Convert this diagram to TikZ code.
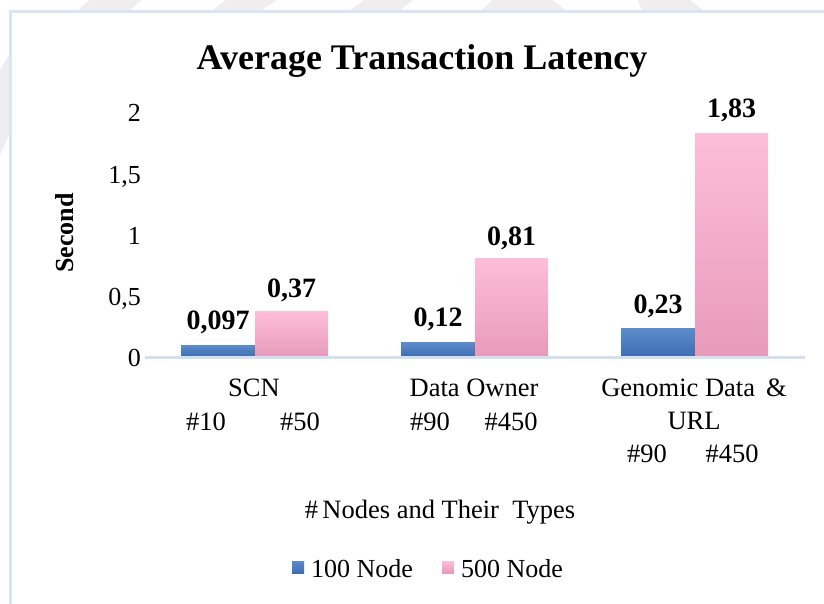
\documentclass[tikz,border=0pt]{standalone}
\usepackage{fontspec}
\setmainfont{Liberation Serif}
\definecolor{framec}{HTML}{DAE5F4}
\definecolor{axisc}{HTML}{D3E0F1}
\definecolor{bluetop}{HTML}{5C8BC9}
\definecolor{bluebot}{HTML}{3D6EB3}
\definecolor{pinktop}{HTML}{FDBEDA}
\definecolor{pinkbot}{HTML}{E89ABB}
\definecolor{wmark}{HTML}{EEEEEE}
\tikzset{
  barblue/.style={top color=bluetop, bottom color=bluebot, draw=none},
  barpink/.style={top color=pinktop, bottom color=pinkbot, draw=none},
  vallabel/.style={anchor=base, font=\fontsize{28}{30}\selectfont\bfseries, inner sep=0pt},
  catlabel/.style={anchor=base, font=\fontsize{26.5}{30}\selectfont, inner sep=0pt},
  ticklabel/.style={anchor=base east, font=\fontsize{26}{30}\selectfont, inner sep=0pt},
  legendtext/.style={anchor=base west, font=\fontsize{26}{30}\selectfont, inner sep=0pt},
}
\begin{document}
\begin{tikzpicture}[x=1pt, y=-1pt]
\useasboundingbox (0,0) rectangle (824,604);
\fill[white] (0,0) rectangle (824,604);

% faint watermark bands behind the frame
\fill[wmark] (78,10) -- (130,10) -- (142,0) -- (90,0) -- cycle;
\fill[wmark] (213,10) -- (262,10) -- (277,0) -- (226,0) -- cycle;
\fill[wmark] (350,10) -- (400,10) -- (413,0) -- (364,0) -- cycle;
\fill[wmark] (482,10) -- (565,10) -- (552,0) -- (492,0) -- cycle;
\fill[wmark] (642,10) -- (703,10) -- (690,0) -- (638,0) -- cycle;
\fill[wmark] (0,70) -- (9,55) -- (9,135) -- (0,155) -- cycle;

% chart frame
\draw[framec, line width=3pt] (10.5,610) -- (10.5,11.5) -- (830,11.5);

% title
\node[anchor=base, font=\fontsize{36}{40}\selectfont\bfseries, inner sep=0pt] (title) at (422,70) {Average Transaction Latency};

% value axis labels (122 px per second, zero at y = 357)
\node[ticklabel] (t2)  at (141,122) {2};
\node[ticklabel] (t15) at (141,183) {1,5};
\node[ticklabel] (t1)  at (141,244) {1};
\node[ticklabel] (t05) at (141,305) {0,5};
\node[ticklabel] (t0)  at (141,366) {0};

\node[rotate=90, anchor=center, font=\fontsize{26}{30}\selectfont\bfseries, inner sep=0pt] (ytitle) at (65,233) {Second};

% bars
\fill[barblue] (181,357) rectangle (255,345.2);
\fill[barpink] (255,357) rectangle (328,311.9);
\fill[barblue] (401,357) rectangle (475,342.4);
\fill[barpink] (475,357) rectangle (548,258.2);
\fill[barblue] (621,357) rectangle (695,328.9);
\fill[barpink] (695,357) rectangle (768,133.7);

% category axis
\coordinate (axl) at (145,357);
\coordinate (axr) at (805,357);
\draw[axisc, line width=3pt] (axl) -- (axr);

% value labels
\node[vallabel] (v1) at (218,329) {0,097};
\node[vallabel] (v2) at (291.5,297) {0,37};
\node[vallabel] (v3) at (438,326) {0,12};
\node[vallabel] (v4) at (511.5,245) {0,81};
\node[vallabel] (v5) at (658,313) {0,23};
\node[vallabel] (v6) at (731.5,118) {1,83};

% category labels
\node[catlabel] (c1) at (254,396) {SCN};
\node[catlabel] (c1a) at (206,430) {\#10};
\node[catlabel] (c1b) at (300,430) {\#50};
\node[catlabel] (c2) at (474,396) {Data Owner};
\node[catlabel] (c2a) at (430,430) {\#90};
\node[catlabel] (c2b) at (511,430) {\#450};
\node[catlabel] (c3) at (694,396) {Genomic Data \,\&};
\node[catlabel] (c3l) at (694,429) {URL};
\node[catlabel] (c3a) at (647,462) {\#90};
\node[catlabel] (c3b) at (732,462) {\#450};

% category axis title
\node[catlabel] (xtitle) at (440,518) {\#\,Nodes and Their \ Types};

% legend
\fill[barblue] (292,561) rectangle (304,573);
\node[legendtext] (l1) at (311,577) {100 Node};
\fill[barpink] (442,561) rectangle (454,573);
\node[legendtext] (l2) at (461,577) {500 Node};
\end{tikzpicture}
\end{document}
